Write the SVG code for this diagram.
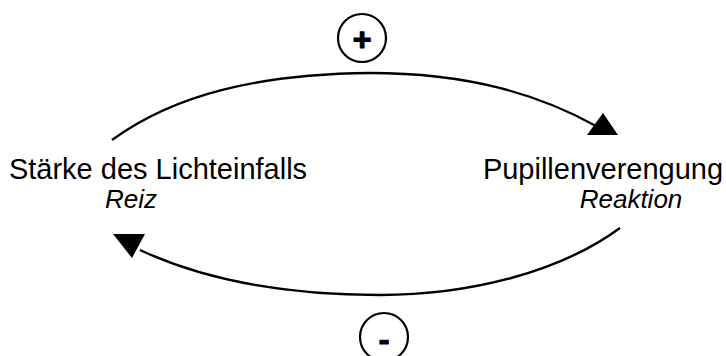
<svg xmlns="http://www.w3.org/2000/svg" width="726" height="356" viewBox="0 0 726 356">
<style>
.lbl{font-family:"Liberation Sans",Arial,sans-serif;font-size:29px;fill:#000}
.sub{font-family:"Liberation Sans",Arial,sans-serif;font-size:26px;font-style:italic;fill:#000}
.arc{fill:none;stroke:#000;stroke-width:2.4}
.sign{fill:none;stroke:#000;stroke-width:2.2}
.mark{font-family:"Liberation Sans",Arial,sans-serif;font-size:32px;font-weight:bold;fill:#000;stroke:#000;stroke-width:1.2}
</style>
<rect width="726" height="356" fill="#fff"/>
<g id="connectors">
<path class="arc" d="M112,140 C175,94 260,74 370,73 C470,73 540,95 596,126"/>
<polygon points="603,113 618,135 587,135" fill="#000"/>
<path class="arc" d="M620,228 C560,272 470,295 380,295 C280,295 200,278 140,250"/>
<polygon points="113,234 145,234 132,258" fill="#000"/>
</g>
<g id="plus">
<circle class="sign" cx="362" cy="38" r="24"/>
<text class="mark" x="362" y="50" text-anchor="middle">+</text>
</g>
<g id="minus">
<circle class="sign" cx="384" cy="337" r="24"/>
<text class="mark" x="384" y="350" text-anchor="middle">-</text>
</g>
<g id="node-reiz">
<text class="lbl" x="158" y="179" text-anchor="middle">Stärke des Lichteinfalls</text>
<text class="sub" x="131" y="208" text-anchor="middle">Reiz</text>
</g>
<g id="node-reaktion">
<text class="lbl" x="603" y="179" text-anchor="middle">Pupillenverengung</text>
<text class="sub" x="631" y="208" text-anchor="middle">Reaktion</text>
</g>
</svg>
